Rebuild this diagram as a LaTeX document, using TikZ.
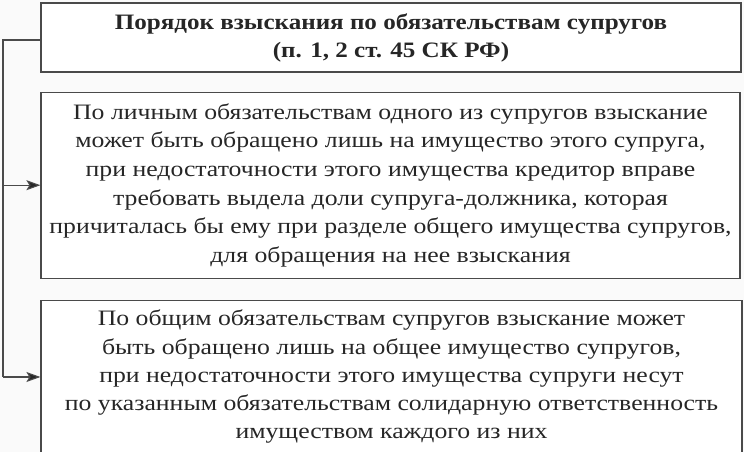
\documentclass[tikz,border=0pt]{standalone}
\usepackage{fontspec}
\setmainfont{Liberation Serif}
\newfontfamily\bodyfont[FakeStretch=1.17]{Liberation Serif}
\newfontfamily\headfont[FakeStretch=1.14]{Liberation Serif}
\usepackage{xcolor}
\usepackage{tikz}
\usetikzlibrary{positioning, arrows.meta}
\definecolor{framegray}{HTML}{4A4A4A}
\definecolor{inkgray}{HTML}{262626}
\tikzset{
        x=1pt, y=1pt,
        node distance=19pt, % gap between the boxes
    }
\tikzset{
      text box/.style={
		draw=framegray,
		line width=1.2pt,
		fill=white,
		text=inkgray,
		align=center,
		inner sep=0pt,
		minimum width={#1},
	  },
  		link/.style={
    	draw=framegray, line width=1.1pt, -{Stealth[length=14pt, width=10pt, inset=3pt, fill=inkgray]},
      }
  	}

\begin{document}
\begin{tikzpicture}
    \useasboundingbox[fill=black!2] (0,0) rectangle (744,452);
    \node [text box=700pt, minimum height=69pt, font={\headfont\bfseries\fontsize{22}{28}\selectfont}] (order) at (391,414.5)
        {Порядок взыскания по обязательствам супругов\\(п. 1, 2 ст. 45 СК РФ)};
    \node [text box=699pt, minimum height=186pt, below=of order.south west, anchor=north west, font={\bodyfont\fontsize{22}{28.6}\selectfont}] (personal)
        {По личным обязательствам одного из супругов взыскание\\
         может быть обращено лишь на имущество этого супруга,\\
         при недостаточности этого имущества кредитор вправе\\
         требовать выдела доли супруга-должника, которая\\
         причиталась бы ему при разделе общего имущества супругов,\\
         для обращения на нее взыскания};
    \node [text box=701pt, minimum height=153pt, below=21pt of personal.south west, anchor=north west, font={\bodyfont\fontsize{22}{28.2}\selectfont}] (common)
        {По общим обязательствам супругов взыскание может\\
         быть обращено лишь на общее имущество супругов,\\
         при недостаточности этого имущества супруги несут\\
         по указанным обязательствам солидарную ответственность\\
         имуществом каждого из них};
    \coordinate (bus top) at (3,412);
    \coordinate (bus bottom) at (3,75);
    \draw [framegray, line width=1.1pt] (order.west |- bus top) -- (bus top) -- (bus bottom);
    \draw [link] (bus bottom) -- (common.west |- bus bottom);
    \draw [link] (bus top |- personal.west) -- (personal.west);
  \end{tikzpicture}
\end{document}
